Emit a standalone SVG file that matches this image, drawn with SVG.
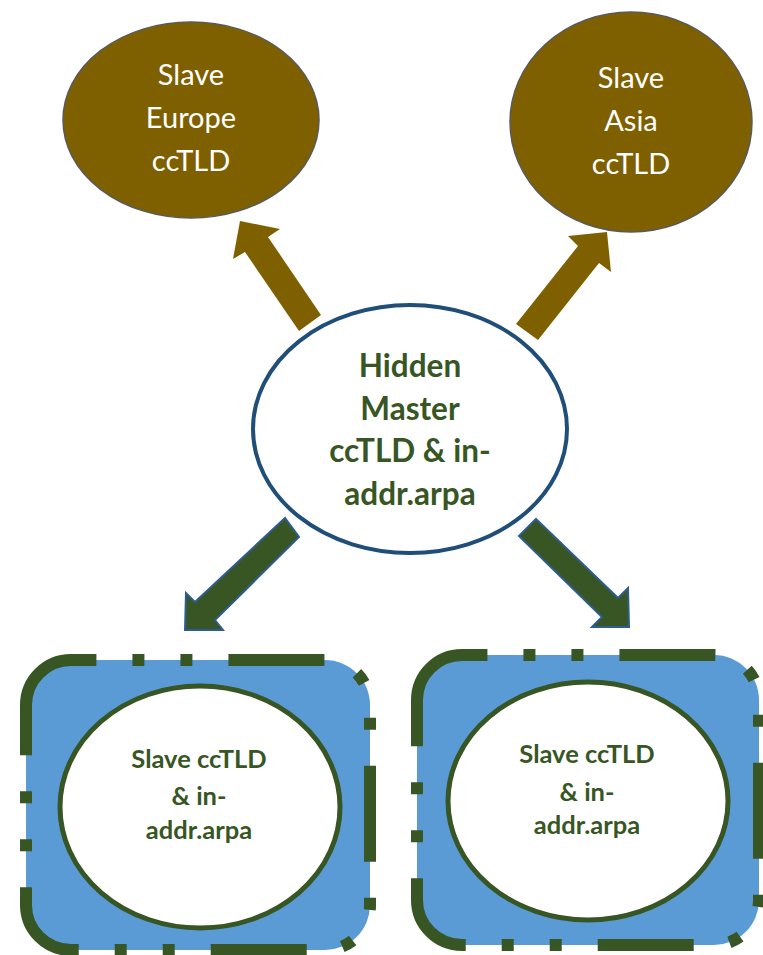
<svg xmlns="http://www.w3.org/2000/svg" width="763" height="955" viewBox="0 0 763 955">
<style>
.top{fill:#7F6000;stroke:#595959;stroke-width:1.5}
.toptxt{font-family:Lato,"Liberation Sans",sans-serif;font-size:29px;fill:#ffffff;text-anchor:middle}
.hm{fill:#ffffff;stroke:#1F4E79;stroke-width:4}
.hmtxt{font-family:Lato,"Liberation Sans",sans-serif;font-weight:bold;font-size:31.5px;fill:#375623;text-anchor:middle}
.box{fill:#5B9BD5;stroke:#375623;stroke-width:12;stroke-dasharray:96 36 12 36 12 36}
.inner{fill:#ffffff;stroke:#375623;stroke-width:5}
.intxt{font-family:Lato,"Liberation Sans",sans-serif;font-weight:bold;font-size:25.5px;fill:#375623;text-anchor:middle}
.up{fill:#7F6000}
.down{fill:#375623;stroke:#2E5C8E;stroke-width:2}
</style>
<g id="connectors">
<polygon class="up" points="299,331 245,252 233,259 240,221 280,229 268,237 321,315"/>
<polygon class="up" points="516,324 578,246 568,236 607,232 611,272 599,263 538,340"/>
<polygon class="down" points="285,518 195,602 186,593 185,630 223,630 215,620 299,537"/>
<polygon class="down" points="536,519 618,598 628,588 629,627 592,627 602,617 519,536"/>
</g>
<g id="slave-europe">
<ellipse class="top" cx="191" cy="120" rx="128" ry="98"/>
<text class="toptxt" x="191" y="85">Slave</text>
<text class="toptxt" x="191" y="128">Europe</text>
<text class="toptxt" x="191" y="171">ccTLD</text>
</g>
<g id="slave-asia">
<ellipse class="top" cx="631" cy="122" rx="121" ry="110"/>
<text class="toptxt" x="631" y="88">Slave</text>
<text class="toptxt" x="631" y="131">Asia</text>
<text class="toptxt" x="631" y="174">ccTLD</text>
</g>
<g id="hidden-master">
<ellipse class="hm" cx="410" cy="429" rx="157" ry="124"/>
<text class="hmtxt" x="410" y="377">Hidden</text>
<text class="hmtxt" x="410" y="420">Master</text>
<text class="hmtxt" x="410" y="462">ccTLD &amp; in-</text>
<text class="hmtxt" x="410" y="505">addr.arpa</text>
</g>
<g id="slave-left">
<path class="box" d="M26,705 A45,45 0 0 1 71,660 H325 A45,45 0 0 1 370,705 V905 A45,45 0 0 1 325,950 H71 A45,45 0 0 1 26,905 Z"/>
<ellipse class="inner" cx="200" cy="807" rx="140" ry="121"/>
<text class="intxt" x="199" y="768">Slave ccTLD</text>
<text class="intxt" x="199" y="805">&amp; in-</text>
<text class="intxt" x="199" y="839">addr.arpa</text>
</g>
<g id="slave-right">
<path class="box" d="M417,700 A45,45 0 0 1 462,655 H714 A45,45 0 0 1 759,700 V900 A45,45 0 0 1 714,945 H462 A45,45 0 0 1 417,900 Z"/>
<ellipse class="inner" cx="588" cy="801" rx="140" ry="119"/>
<text class="intxt" x="587" y="763">Slave ccTLD</text>
<text class="intxt" x="587" y="801">&amp; in-</text>
<text class="intxt" x="587" y="834">addr.arpa</text>
</g>
</svg>
